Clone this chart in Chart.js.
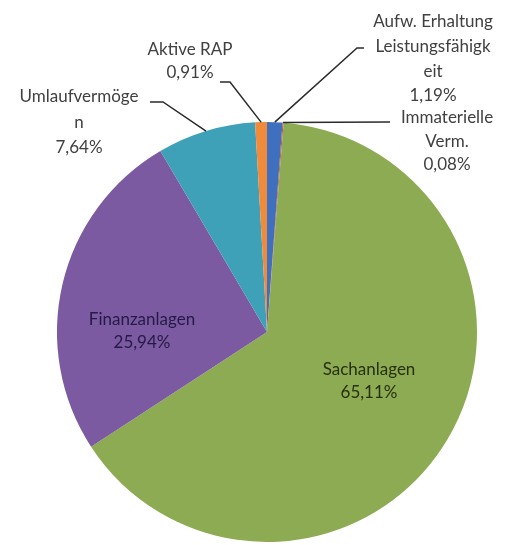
<!DOCTYPE html>
<html>
<head>
<meta charset="utf-8">
<script src="https://cdn.jsdelivr.net/npm/chart.js@4.4.1/dist/chart.umd.min.js"></script>
<style>
  html, body { margin: 0; padding: 0; background: #fff; }
  #wrap { width: 505px; height: 545px; position: relative; }
</style>
</head>
<body>
<div id="wrap"><canvas id="mycanvas"></canvas></div>
<script>
// data, in sheet order (Excel starts at 12 o'clock, clockwise)
const categories = ["Aufw. Erhaltung Leistungsfähigkeit", "Immaterielle Verm.", "Sachanlagen", "Finanzanlagen", "Umlaufvermögen", "Aktive RAP"];
const shares = [1.19, 0.08, 65.11, 25.94, 7.64, 0.91];
// label text as Excel wrapped it (last line = value)
const labelWrap = [
  ["Aufw. Erhaltung", "Leistungsfähigk", "eit"],
  ["Immaterielle", "Verm."],
  ["Sachanlagen"],
  ["Finanzanlagen"],
  ["Umlaufvermöge", "n"],
  ["Aktive RAP"]
];

const sliceColors = ["#3f6fbf", "#c0504d", "#8dab52", "#7b5aa1", "#3fa1b8", "#ef8b3b"];

// label placement, offsets from pie centre (px)
const labelLayout = [
  { x: 166, y: -310, step: 24.6, color: "#404040", leader: [[90, -284], [97, -284]] },
  { x: 180, y: -214, step: 23.5, color: "#404040", leader: [[123, -210]] },
  { x: 102, y: 38, step: 23, color: "#26300c" },
  { x: -125, y: -12, step: 23, color: "#241a45" },
  { x: -188, y: -235, step: 25.5, color: "#404040", leader: [[-104, -230], [-117, -230]] },
  { x: -77, y: -282, step: 23, color: "#404040", leader: [[-37, -250], [-47, -250]] }
];

function fmtPct(v) {
  return v.toFixed(2).replace(".", ",") + "%";
}

const labelPlugin = {
  id: "excelLabels",
  afterDatasetsDraw(chart) {
    const ctx = chart.ctx;
    const meta = chart.getDatasetMeta(0);
    meta.data.forEach((arc, i) => {
      const p = arc.getProps(["x", "y", "startAngle", "endAngle", "outerRadius"], true);
      const lay = labelLayout[i];
      const mid = (p.startAngle + p.endAngle) / 2;
      if (lay.leader) {
        ctx.save();
        ctx.strokeStyle = "#2b2b2b";
        ctx.lineWidth = 1.5;
        ctx.beginPath();
        ctx.moveTo(p.x + Math.cos(mid) * p.outerRadius, p.y + Math.sin(mid) * p.outerRadius);
        lay.leader.forEach(pt => ctx.lineTo(p.x + pt[0], p.y + pt[1]));
        ctx.stroke();
        ctx.restore();
      }
      const lines = labelWrap[i].concat([fmtPct(shares[i])]);
      ctx.save();
      ctx.font = "17px Lato, 'Open Sans', sans-serif";
      ctx.fillStyle = lay.color;
      ctx.textAlign = "center";
      ctx.textBaseline = "middle";
      lines.forEach((t, k) => {
        ctx.fillText(t, p.x + lay.x, p.y + lay.y + k * lay.step);
      });
      ctx.restore();
    });
  }
};

new Chart(document.getElementById("mycanvas"), {
  type: "pie",
  data: {
    labels: categories,
    datasets: [{
      data: shares,
      backgroundColor: sliceColors,
      borderWidth: 0,
      hoverOffset: 0
    }]
  },
  options: {
    responsive: true,
    maintainAspectRatio: false,
    animation: false,
    layout: { padding: { left: 57, right: 28, top: 122, bottom: 3 } },
    plugins: {
      legend: { display: false },
      tooltip: { enabled: false }
    }
  },
  plugins: [labelPlugin]
});
</script>
</body>
</html>
